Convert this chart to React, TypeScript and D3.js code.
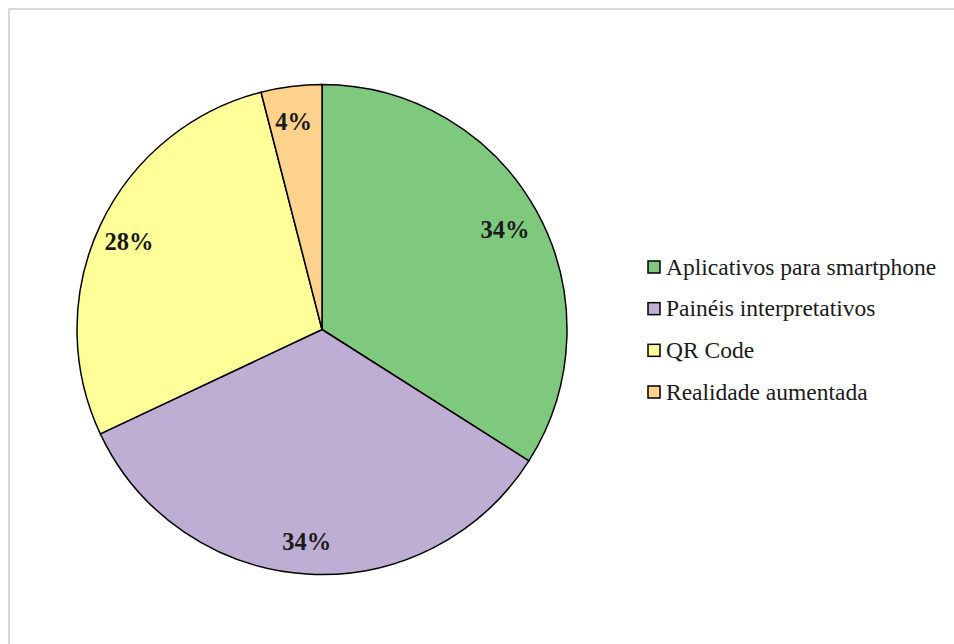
import React from "react";
import * as d3 from "d3";

const categories = ["Aplicativos para smartphone", "Painéis interpretativos", "QR Code", "Realidade aumentada"];
const values = [34, 34, 28, 4];
const labels = ["34%", "34%", "28%", "4%"];
const colors = ["#7fc97f", "#beaed4", "#ffff99", "#fdd28d"];

const W = 954;
const H = 644;
const cx = 322;
const cy = 329.5;
const R = 245;
const labelR = 211;
const FONT = "'Liberation Serif', 'Times New Roman', 'DejaVu Serif', serif";

export default function App() {
  const pie = d3.pie<number>().sort(null).value((d) => d)(values);
  const arc = d3.arc<d3.PieArcDatum<number>>().innerRadius(0).outerRadius(R);
  const labelArc = d3.arc<d3.PieArcDatum<number>>().innerRadius(labelR).outerRadius(labelR);
  const legendY = d3.scalePoint<number>().domain(d3.range(categories.length)).range([267, 392]);

  return (
    <svg
      width={W}
      height={H}
      style={{ position: "absolute", left: 0, top: 0, background: "#fff" }}
    >
      <rect x={9} y={9} width={W + 20} height={H + 20} fill="#fff" stroke="#d9d9d9" strokeWidth={2} />
      <g transform={`translate(${cx},${cy})`}>
        {pie.map((p, i) => (
          <path key={i} d={arc(p) || ""} fill={colors[i]} stroke="#000" strokeWidth={1.5} strokeLinejoin="round" />
        ))}
        {pie.map((p, i) => {
          const [x, y] = labelArc.centroid(p);
          return (
            <text
              key={i}
              x={x - 2}
              y={y + 10}
              textAnchor="middle"
              style={{ fontFamily: FONT, fontWeight: "bold", fontSize: "24.5px" }}
              fill="#1a1a1a"
            >
              {labels[i]}
            </text>
          );
        })}
      </g>
      <g>
        {categories.map((c, i) => {
          const y = legendY(i) as number;
          return (
            <g key={i}>
              <rect x={648} y={y - 6} width={12} height={12} fill={colors[i]} stroke="#000" strokeWidth={1.5} />
              <text x={666} y={y + 7.5} style={{ fontFamily: FONT, fontSize: "23.5px" }} fill="#1a1a1a">
                {c}
              </text>
            </g>
          );
        })}
      </g>
    </svg>
  );
}
